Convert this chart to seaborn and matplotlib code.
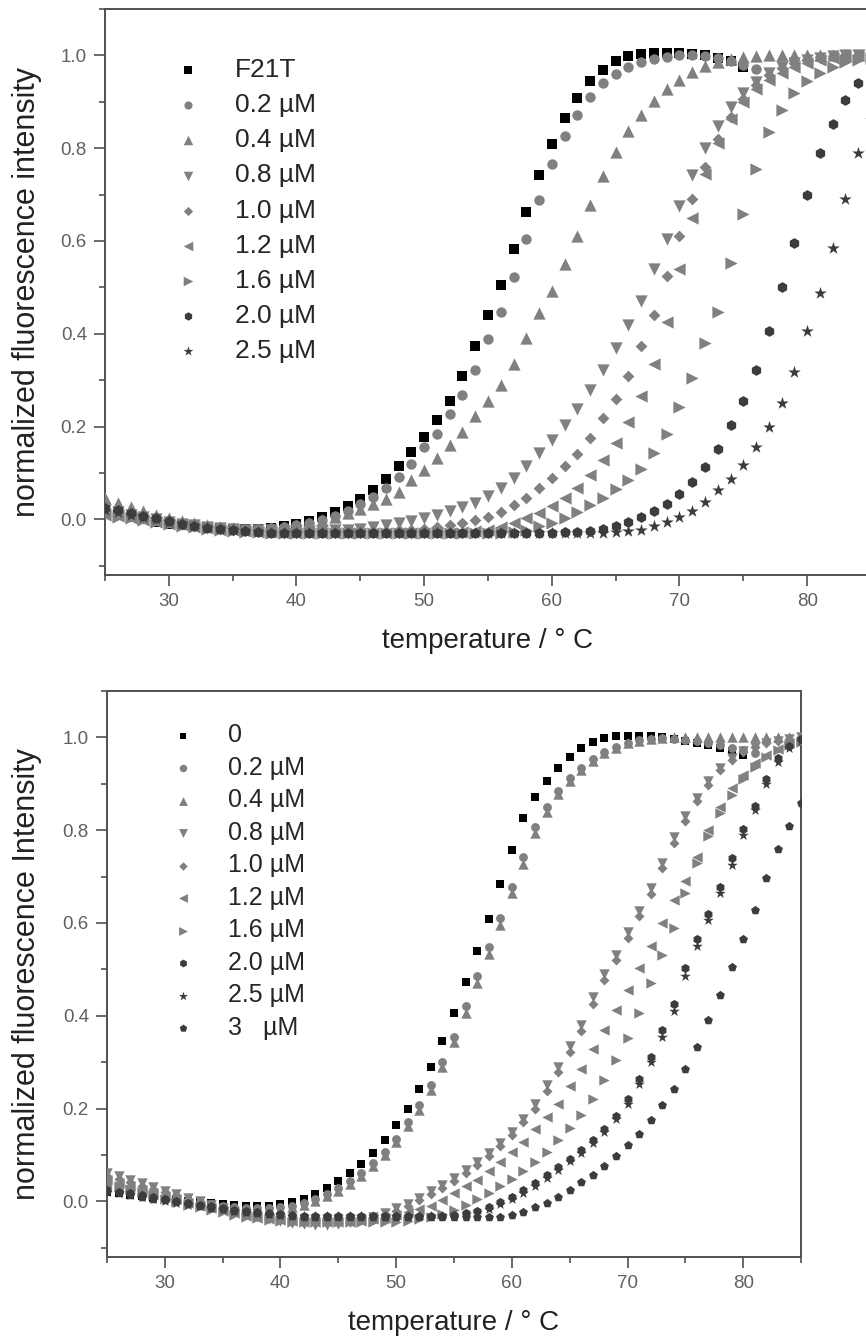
import matplotlib

matplotlib.use("Agg")
import matplotlib.pyplot as plt
import numpy as np
import seaborn as sns
from matplotlib.ticker import FormatStrFormatter, MultipleLocator


# temperature scan, one reading per degree
TEMPS = np.arange(25, 86)

# ---- upper panel (F21T titration) ----
TOP_LABELS = ["F21T", "0.2 µM", "0.4 µM", "0.8 µM", "1.0 µM", "1.2 µM", "1.6 µM", "2.0 µM", "2.5 µM"]

TOP_F21T = [0.015, 0.010, 0.005, 0.000, -0.005, -0.009, -0.012, -0.015, -0.017, -0.019,
            -0.020, -0.020, -0.020, -0.018, -0.015, -0.010, -0.004, 0.004, 0.015, 0.028,
            0.044, 0.064, 0.088, 0.115, 0.146, 0.178, 0.215, 0.256, 0.310, 0.373,
            0.440, 0.505, 0.583, 0.662, 0.742, 0.810, 0.866, 0.908, 0.944, 0.969,
            0.987, 0.998, 1.004, 1.006, 1.006, 1.005, 1.003, 1.000, 0.995, 0.987,
            0.975]
TOP_02 = [0.020, 0.014, 0.008, 0.003, -0.002, -0.006, -0.010, -0.013, -0.016, -0.018,
          -0.019, -0.020, -0.020, -0.019, -0.017, -0.013, -0.008, -0.001, 0.008, 0.019,
          0.032, 0.048, 0.068, 0.092, 0.120, 0.155, 0.185, 0.226, 0.267, 0.322,
          0.389, 0.447, 0.523, 0.605, 0.689, 0.766, 0.827, 0.872, 0.910, 0.940,
          0.960, 0.975, 0.985, 0.992, 0.997, 1.000, 1.000, 0.998, 0.994, 0.988,
          0.980, 0.970]
TOP_04 = [0.045, 0.036, 0.027, 0.018, 0.010, 0.003, -0.003, -0.008, -0.012, -0.016,
          -0.018, -0.020, -0.020, -0.019, -0.016, -0.012, -0.007, -0.001, 0.006, 0.014,
          0.022, 0.032, 0.044, 0.058, 0.085, 0.106, 0.132, 0.160, 0.188, 0.222,
          0.254, 0.290, 0.335, 0.390, 0.445, 0.492, 0.550, 0.610, 0.678, 0.740,
          0.792, 0.838, 0.872, 0.902, 0.927, 0.948, 0.965, 0.977, 0.986, 0.992,
          0.996, 0.998, 1.000, 1.000, 1.000, 1.000, 1.000, 1.000, 1.000, 1.000,
          1.000]
TOP_08 = [0.020, 0.015, 0.010, 0.005, 0.000, -0.005, -0.009, -0.013, -0.016, -0.019,
          -0.021, -0.022, -0.023, -0.024, -0.025, -0.025, -0.025, -0.025, -0.024, -0.022,
          -0.020, -0.017, -0.013, -0.008, -0.003, 0.003, 0.010, 0.018, 0.026, 0.035,
          0.050, 0.068, 0.090, 0.116, 0.143, 0.172, 0.204, 0.238, 0.278, 0.322,
          0.370, 0.418, 0.470, 0.540, 0.605, 0.675, 0.743, 0.800, 0.848, 0.888,
          0.918, 0.943, 0.962, 0.975, 0.984, 0.990, 0.995, 0.998, 1.000, 1.000,
          1.000]
TOP_10 = [0.015, 0.011, 0.007, 0.003, -0.002, -0.006, -0.010, -0.014, -0.017, -0.020,
          -0.022, -0.024, -0.025, -0.026, -0.027, -0.027, -0.027, -0.027, -0.027, -0.027,
          -0.026, -0.026, -0.025, -0.024, -0.022, -0.020, -0.017, -0.013, -0.008, -0.002,
          0.006, 0.016, 0.030, 0.047, 0.068, 0.090, 0.114, 0.140, 0.175, 0.218,
          0.260, 0.310, 0.373, 0.440, 0.525, 0.610, 0.690, 0.760, 0.820, 0.868,
          0.906, 0.936, 0.958, 0.973, 0.984, 0.991, 0.996, 0.999, 1.000, 1.000,
          1.000]
TOP_12 = [0.010, 0.007, 0.003, -0.001, -0.005, -0.009, -0.013, -0.016, -0.019, -0.022,
          -0.024, -0.026, -0.027, -0.028, -0.029, -0.029, -0.029, -0.029, -0.029, -0.029,
          -0.029, -0.029, -0.029, -0.029, -0.029, -0.029, -0.029, -0.029, -0.028, -0.026,
          -0.022, -0.016, -0.008, 0.002, 0.014, 0.028, 0.045, 0.067, 0.095, 0.127,
          0.165, 0.210, 0.265, 0.335, 0.425, 0.540, 0.650, 0.745, 0.812, 0.862,
          0.900, 0.927, 0.947, 0.962, 0.974, 0.983, 0.990, 0.995, 0.998, 1.000,
          1.000]
TOP_16 = [0.010, 0.006, 0.002, -0.002, -0.006, -0.010, -0.014, -0.017, -0.020, -0.023,
          -0.025, -0.027, -0.028, -0.029, -0.029, -0.029, -0.029, -0.029, -0.029, -0.029,
          -0.029, -0.029, -0.029, -0.029, -0.029, -0.029, -0.029, -0.029, -0.029, -0.029,
          -0.029, -0.029, -0.027, -0.022, -0.015, -0.007, 0.003, 0.015, 0.030, 0.046,
          0.065, 0.084, 0.108, 0.142, 0.184, 0.243, 0.305, 0.380, 0.447, 0.553,
          0.658, 0.755, 0.835, 0.882, 0.918, 0.944, 0.962, 0.975, 0.985, 0.991,
          0.995]
TOP_20 = [0.025, 0.020, 0.014, 0.008, 0.002, -0.004, -0.009, -0.014, -0.018, -0.021,
          -0.024, -0.026, -0.028, -0.029, -0.030, -0.030, -0.030, -0.030, -0.030, -0.030,
          -0.030, -0.030, -0.030, -0.030, -0.030, -0.030, -0.030, -0.030, -0.030, -0.030,
          -0.030, -0.030, -0.030, -0.030, -0.029, -0.029, -0.028, -0.027, -0.025, -0.020,
          -0.014, -0.006, 0.004, 0.017, 0.034, 0.055, 0.081, 0.112, 0.152, 0.203,
          0.255, 0.322, 0.405, 0.500, 0.595, 0.700, 0.790, 0.852, 0.903, 0.940,
          0.962]
TOP_25 = [0.020, 0.015, 0.010, 0.005, 0.000, -0.005, -0.010, -0.014, -0.018, -0.021,
          -0.024, -0.026, -0.028, -0.029, -0.030, -0.030, -0.030, -0.030, -0.030, -0.030,
          -0.030, -0.030, -0.030, -0.030, -0.030, -0.030, -0.030, -0.030, -0.030, -0.030,
          -0.030, -0.030, -0.030, -0.030, -0.030, -0.030, -0.030, -0.030, -0.030, -0.029,
          -0.028, -0.026, -0.022, -0.014, -0.006, 0.004, 0.018, 0.038, 0.063, 0.088,
          0.118, 0.155, 0.198, 0.250, 0.318, 0.405, 0.487, 0.585, 0.690, 0.790,
          0.860]

# ---- lower panel ----
BOT_LABELS = ["0", "0.2 µM", "0.4 µM", "0.8 µM", "1.0 µM", "1.2 µM", "1.6 µM", "2.0 µM", "2.5 µM", "3   µM"]

BOT_0 = [0.020, 0.017, 0.014, 0.011, 0.008, 0.005, 0.002, 0.000, -0.002, -0.004,
         -0.006, -0.008, -0.009, -0.010, -0.009, -0.006, -0.001, 0.006, 0.016, 0.028,
         0.043, 0.060, 0.080, 0.104, 0.132, 0.164, 0.200, 0.242, 0.290, 0.345,
         0.405, 0.472, 0.540, 0.608, 0.685, 0.758, 0.826, 0.871, 0.906, 0.934,
         0.958, 0.977, 0.990, 0.998, 1.002, 1.003, 1.003, 1.002, 1.000, 0.997,
         0.993, 0.988, 0.983, 0.977, 0.970, 0.962]
BOT_02 = [0.035, 0.030, 0.025, 0.020, 0.015, 0.010, 0.006, 0.002, -0.002, -0.006,
          -0.009, -0.012, -0.014, -0.015, -0.015, -0.013, -0.009, -0.003, 0.005, 0.015,
          0.028, 0.043, 0.061, 0.083, 0.107, 0.135, 0.172, 0.207, 0.250, 0.300,
          0.355, 0.420, 0.486, 0.548, 0.610, 0.678, 0.742, 0.806, 0.850, 0.885,
          0.912, 0.935, 0.954, 0.969, 0.980, 0.988, 0.994, 0.997, 0.998, 0.997,
          0.995, 0.992, 0.988, 0.983, 0.978, 0.972, 0.966]
BOT_04 = [0.040, 0.034, 0.028, 0.022, 0.016, 0.010, 0.005, 0.000, -0.004, -0.008,
          -0.012, -0.015, -0.017, -0.019, -0.019, -0.017, -0.013, -0.007, 0.001, 0.011,
          0.023, 0.037, 0.055, 0.076, 0.100, 0.127, 0.162, 0.197, 0.240, 0.290,
          0.343, 0.405, 0.470, 0.533, 0.596, 0.664, 0.728, 0.793, 0.840, 0.877,
          0.906, 0.930, 0.950, 0.966, 0.978, 0.987, 0.993, 0.997, 0.999, 1.000,
          1.000, 1.000, 1.000, 1.000, 1.000, 1.000, 1.000, 1.000, 1.000, 1.000,
          1.000]
BOT_08 = [0.062, 0.055, 0.047, 0.039, 0.031, 0.023, 0.015, 0.007, 0.000, -0.008,
          -0.015, -0.022, -0.028, -0.034, -0.039, -0.043, -0.047, -0.049, -0.050, -0.050,
          -0.048, -0.045, -0.040, -0.033, -0.025, -0.015, -0.005, 0.008, 0.022, 0.036,
          0.051, 0.067, 0.085, 0.105, 0.126, 0.150, 0.178, 0.210, 0.250, 0.290,
          0.335, 0.380, 0.440, 0.490, 0.530, 0.580, 0.625, 0.675, 0.730, 0.785,
          0.830, 0.870, 0.905, 0.935, 0.955, 0.970, 0.980, 0.988, 0.993, 0.997,
          1.000]
BOT_10 = [0.055, 0.048, 0.041, 0.034, 0.027, 0.020, 0.013, 0.006, -0.001, -0.008,
          -0.015, -0.021, -0.027, -0.032, -0.037, -0.041, -0.044, -0.046, -0.047, -0.047,
          -0.046, -0.044, -0.040, -0.035, -0.028, -0.020, -0.010, 0.002, 0.015, 0.029,
          0.044, 0.060, 0.078, 0.098, 0.120, 0.143, 0.170, 0.200, 0.238, 0.278,
          0.322, 0.368, 0.425, 0.478, 0.520, 0.568, 0.615, 0.663, 0.718, 0.772,
          0.820, 0.862, 0.898, 0.930, 0.952, 0.968, 0.979, 0.987, 0.993, 0.997,
          1.000]
BOT_12 = [0.045, 0.039, 0.032, 0.025, 0.018, 0.011, 0.004, -0.003, -0.009, -0.015,
          -0.021, -0.026, -0.031, -0.035, -0.038, -0.041, -0.043, -0.044, -0.045, -0.045,
          -0.045, -0.044, -0.042, -0.039, -0.035, -0.030, -0.024, -0.017, -0.009, 0.003,
          0.018, 0.032, 0.047, 0.066, 0.085, 0.106, 0.128, 0.155, 0.181, 0.210,
          0.248, 0.285, 0.328, 0.370, 0.413, 0.455, 0.503, 0.550, 0.600, 0.650,
          0.690, 0.743, 0.800, 0.850, 0.890, 0.920, 0.944, 0.962, 0.976, 0.987,
          0.995]
BOT_16 = [0.040, 0.034, 0.027, 0.020, 0.013, 0.006, -0.001, -0.007, -0.013, -0.019,
          -0.024, -0.029, -0.033, -0.037, -0.040, -0.042, -0.044, -0.045, -0.045, -0.045,
          -0.045, -0.045, -0.045, -0.045, -0.045, -0.045, -0.042, -0.039, -0.034, -0.027,
          -0.018, -0.007, 0.005, 0.018, 0.032, 0.048, 0.066, 0.085, 0.106, 0.132,
          0.158, 0.186, 0.220, 0.262, 0.305, 0.352, 0.405, 0.470, 0.530, 0.590,
          0.665, 0.730, 0.787, 0.836, 0.876, 0.910, 0.937, 0.957, 0.972, 0.983,
          0.990]
BOT_20 = [0.025, 0.021, 0.017, 0.013, 0.009, 0.005, 0.001, -0.003, -0.007, -0.011,
          -0.015, -0.018, -0.021, -0.024, -0.026, -0.028, -0.030, -0.031, -0.031, -0.032,
          -0.032, -0.032, -0.032, -0.032, -0.032, -0.032, -0.032, -0.032, -0.032, -0.031,
          -0.030, -0.026, -0.020, -0.012, -0.002, 0.010, 0.024, 0.040, 0.057, 0.074,
          0.091, 0.110, 0.132, 0.156, 0.185, 0.220, 0.263, 0.312, 0.370, 0.425,
          0.502, 0.565, 0.620, 0.678, 0.740, 0.803, 0.853, 0.910, 0.955, 0.982,
          0.996]
BOT_25 = [0.020, 0.017, 0.013, 0.009, 0.005, 0.001, -0.003, -0.007, -0.011, -0.014,
          -0.017, -0.020, -0.023, -0.025, -0.027, -0.029, -0.031, -0.031, -0.031, -0.031,
          -0.031, -0.031, -0.031, -0.031, -0.031, -0.031, -0.031, -0.031, -0.031, -0.031,
          -0.031, -0.028, -0.023, -0.016, -0.006, 0.005, 0.018, 0.034, 0.051, 0.068,
          0.086, 0.104, 0.126, 0.150, 0.177, 0.210, 0.252, 0.300, 0.355, 0.410,
          0.485, 0.550, 0.607, 0.665, 0.725, 0.790, 0.843, 0.900, 0.948, 0.978,
          0.993]
BOT_3 = [0.022, 0.018, 0.014, 0.010, 0.006, 0.002, -0.002, -0.006, -0.010, -0.014,
         -0.017, -0.020, -0.023, -0.026, -0.028, -0.030, -0.032, -0.033, -0.033, -0.034,
         -0.034, -0.034, -0.034, -0.034, -0.034, -0.034, -0.034, -0.034, -0.034, -0.034,
         -0.034, -0.034, -0.034, -0.034, -0.033, -0.030, -0.022, -0.013, -0.003, 0.010,
         0.025, 0.042, 0.057, 0.077, 0.098, 0.121, 0.145, 0.175, 0.208, 0.243,
         0.285, 0.333, 0.390, 0.445, 0.505, 0.565, 0.627, 0.698, 0.760, 0.810,
         0.858]

TOP_SERIES = [TOP_F21T, TOP_02, TOP_04, TOP_08, TOP_10, TOP_12, TOP_16, TOP_20, TOP_25]
BOT_SERIES = [BOT_0, BOT_02, BOT_04, BOT_08, BOT_10, BOT_12, BOT_16, BOT_20, BOT_25, BOT_3]

# styling
BLACK, GRAY, DARK = "#000000", "#808080", "#3c3c3c"
MARKERS = ["s", "o", "^", "v", "D", "<", ">", "h", "*", "p"]
COLORS = [BLACK, GRAY, GRAY, GRAY, GRAY, GRAY, GRAY, DARK, DARK, DARK]
AREA = {"s": 48, "o": 56, "^": 78, "v": 78, "D": 36, "<": 78, ">": 78, "h": 60, "*": 90, "p": 62}
AXIS_GRAY = "#505050"
TICK_GRAY = "#606060"

W, H = 866, 1339


def _frac(left, top, right, bottom):
    return [left / W, 1 - bottom / H, (right - left) / W, (bottom - top) / H]


def style_axes(ax, ylabel, label_x):
    ax.set_xlim(25, 85)
    ax.set_ylim(-0.12, 1.1)
    ax.xaxis.set_major_locator(MultipleLocator(10))
    ax.xaxis.set_minor_locator(MultipleLocator(5))
    ax.yaxis.set_major_locator(MultipleLocator(0.2))
    ax.yaxis.set_minor_locator(MultipleLocator(0.1))
    ax.yaxis.set_major_formatter(FormatStrFormatter("%.1f"))
    ax.tick_params(which="both", direction="out", color=AXIS_GRAY, width=1.2,
                   labelcolor=TICK_GRAY, labelsize=13.5, top=False, right=False)
    ax.tick_params(which="major", length=8, pad=5)
    ax.tick_params(which="minor", length=4)
    for side in ("left", "bottom", "top", "right"):
        ax.spines[side].set_color(AXIS_GRAY)
        ax.spines[side].set_linewidth(1.4)
        ax.spines[side].set_visible(True)
    ax.grid(False)
    ax.set_xlabel("temperature / ° C", fontsize=20, color="#222222")
    ax.set_ylabel(ylabel, fontsize=22, color="#222222")
    ax.xaxis.set_label_coords(0.5, -0.093)
    ax.yaxis.set_label_coords(label_x, 0.5)


def draw_panel(ax, series, labels, scale):
    for i, (vals, lab) in enumerate(zip(series, labels)):
        m = MARKERS[i]
        sns.scatterplot(x=TEMPS[: len(vals)], y=vals, marker=m, color=COLORS[i],
                        s=AREA[m] * scale, linewidth=0, label=lab, ax=ax, zorder=2 + i)


def main():
    sns.set_style("ticks")
    plt.rcParams["font.family"] = ["Liberation Sans", "DejaVu Sans"]

    fig = plt.figure(figsize=(W / 100, H / 100), dpi=100)
    fig.patch.set_facecolor("white")

    # upper panel runs past the right edge of the picture, as in the source figure
    ax1 = fig.add_axes(_frac(105, 9, 871, 575))
    draw_panel(ax1, TOP_SERIES, TOP_LABELS, 1.0)
    style_axes(ax1, "normalized fluorescence intensity", -0.082)
    ax1.legend(loc="upper left", bbox_to_anchor=(0.091, 0.913), frameon=False, fontsize=19,
               handlelength=1.0, handletextpad=1.28, labelspacing=0.42, borderpad=0,
               borderaxespad=0, markerscale=0.78, scatterpoints=1)

    ax2 = fig.add_axes(_frac(107, 691, 801, 1257))
    draw_panel(ax2, BOT_SERIES, BOT_LABELS, 0.72)
    style_axes(ax2, "normalized fluorescence Intensity", -0.094)
    ax2.legend(loc="upper left", bbox_to_anchor=(0.0915, 0.943), frameon=False, fontsize=18,
               handlelength=1.0, handletextpad=1.3, labelspacing=0.34, borderpad=0,
               borderaxespad=0, markerscale=0.85, scatterpoints=1)

    fig.savefig("out.png", dpi=100, facecolor="white")
    plt.close(fig)


if __name__ == "__main__":
    main()
